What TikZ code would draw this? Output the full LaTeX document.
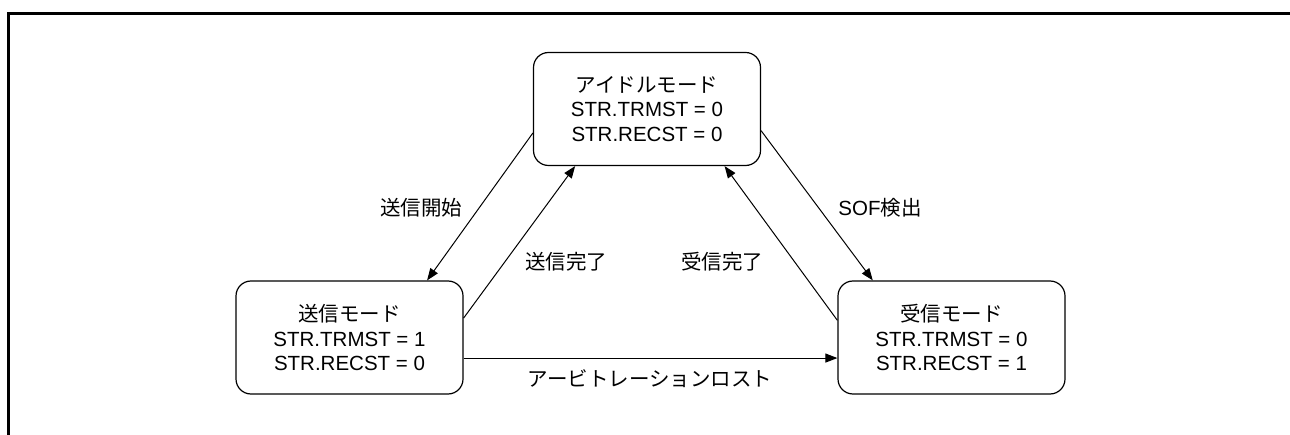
\documentclass[tikz,border=0pt]{standalone}
\usepackage{fontspec}
\setmainfont{Liberation Sans}
\newfontfamily\jp{Noto Sans CJK JP}
\usetikzlibrary{arrows.meta,calc}
\tikzset{
  state/.style={draw=black, line width=1.2pt, rounded corners=15pt, minimum width=227pt, minimum height=113pt, align=center, inner sep=0pt, font=\fontsize{20.5}{24.5}\selectfont},
  trans/.style={draw=black, line width=1pt, -{Triangle[length=12pt,width=9pt]}, shorten >=0pt},
  lbl/.style={font=\fontsize{20.5}{24.5}\selectfont, inner sep=0pt},
  frame/.style={draw=black, line width=3pt}
}
\begin{document}
\begin{tikzpicture}[x=1pt,y=1pt]
\useasboundingbox (0,0) rectangle (1290,-435);
\coordinate (fa) at (8.5,-436);
\coordinate (fb) at (8.5,-13.5);
\coordinate (fc) at (1291,-13.5);
\draw[frame] (fa) -- (fb) -- (fc);

\node[state] (top) at (647,-109) {{\jp アイドルモード}\\STR.TRMST = 0\\STR.RECST = 0};
\node[state] (left) at (349.5,-337.5) {{\jp 送信モード}\\STR.TRMST = 1\\STR.RECST = 0};
\node[state] (right) at (951.5,-337.5) {{\jp 受信モード}\\STR.TRMST = 0\\STR.RECST = 1};

\draw[trans] ($(top.north west)!0.71!(top.south west)$) -- ($(left.north west)!0.84!(left.north east)$);
\draw[trans] ($(left.north east)!0.33!(left.south east)$) -- ($(top.south west)!0.185!(top.south east)$);
\draw[trans] ($(right.north west)!0.35!(right.south west)$) -- ($(top.south west)!0.84!(top.south east)$);
\draw[trans] ($(top.north east)!0.69!(top.south east)$) -- ($(right.north west)!0.155!(right.north east)$);
\coordinate (hs) at ($(left.north east)!0.68!(left.south east)$);
\draw[trans] (hs) -- (hs -| right.west);

\node[lbl] (l1) at (421,-208) {\jp 送信開始};
\node[lbl] (l2) at (566,-262) {\jp 送信完了};
\node[lbl] (l3) at (722,-262) {\jp 受信完了};
\node[lbl] (l4) at (880,-208) {SOF{\jp 検出}};
\node[lbl] (l5) at (650,-379) {\jp アービトレーションロスト};
\end{tikzpicture}
\end{document}
